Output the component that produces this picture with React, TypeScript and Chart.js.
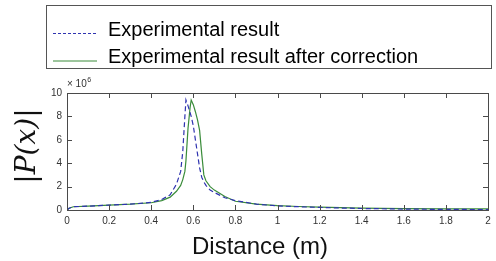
import React, { useEffect, useRef } from "react";
import { Chart, registerables } from "chart.js";

Chart.register(...registerables);

// Distance (m)
const distance = [0, 0.01, 0.03, 0.1, 0.2, 0.3, 0.4, 0.45, 0.49, 0.52, 0.54, 0.55, 0.56, 0.565, 0.575, 0.585, 0.59, 0.6, 0.61, 0.62, 0.63, 0.64, 0.65, 0.66, 0.68, 0.7, 0.75, 0.8, 0.9, 1.0, 1.1, 1.2, 1.3, 1.4, 1.6, 1.8, 2.0];
// |P(x)| in units of 1e6
const experimental = [0, 0.15, 0.28, 0.33, 0.42, 0.5, 0.65, 0.9, 1.3, 2.2, 3.3, 5.0, 8.0, 9.4, 8.9, 8.3, 8.0, 7.2, 6.0, 4.8, 3.6, 2.8, 2.4, 2.1, 1.7, 1.5, 1.05, 0.8, 0.5, 0.35, 0.28, 0.22, 0.17, 0.13, 0.08, 0.05, 0.04];
const corrected = [0, 0.15, 0.28, 0.33, 0.42, 0.5, 0.62, 0.8, 1.1, 1.6, 2.1, 2.6, 3.3, 4.2, 7.0, 8.8, 9.4, 9.0, 8.4, 7.7, 6.8, 4.8, 3.0, 2.5, 2.0, 1.7, 1.15, 0.75, 0.5, 0.38, 0.3, 0.24, 0.2, 0.16, 0.12, 0.1, 0.1];

const xTicks = [0, 0.2, 0.4, 0.6, 0.8, 1, 1.2, 1.4, 1.6, 1.8, 2];
const yTicks = [0, 2, 4, 6, 8, 10];
const seriesLabels = ["Experimental result", "Experimental result after correction"];
const xTitle = "Distance (m)";
const yTitle = "|P(x)|";

const SANS = '"Liberation Sans", Arial, sans-serif';

const decorPlugin = {
  id: "decor",
  afterDraw(chart: any) {
    const ctx = chart.ctx as CanvasRenderingContext2D;
    const { left, right, top, bottom } = chart.chartArea;
    const xs = chart.scales.x;
    const ys = chart.scales.y;
    ctx.save();
    // frame
    ctx.strokeStyle = "#4a4a4a";
    ctx.lineWidth = 1;
    ctx.strokeRect(Math.round(left) + 0.5, Math.round(top) + 0.5, Math.round(right - left), Math.round(bottom - top));
    // inward ticks
    const tl = 5;
    ctx.beginPath();
    xs.ticks.forEach((t: any) => {
      const px = Math.round(xs.getPixelForValue(t.value)) + 0.5;
      ctx.moveTo(px, bottom);
      ctx.lineTo(px, bottom - tl);
      ctx.moveTo(px, top);
      ctx.lineTo(px, top + tl);
    });
    ys.ticks.forEach((t: any) => {
      const py = Math.round(ys.getPixelForValue(t.value)) + 0.5;
      ctx.moveTo(left, py);
      ctx.lineTo(left + tl, py);
      ctx.moveTo(right, py);
      ctx.lineTo(right - tl, py);
    });
    ctx.stroke();

    // exponent label
    ctx.fillStyle = "#333";
    ctx.textBaseline = "alphabetic";
    ctx.textAlign = "left";
    ctx.font = `10px ${SANS}`;
    ctx.fillText("× 10", left, top - 6);
    const w = ctx.measureText("× 10").width;
    ctx.font = `7px ${SANS}`;
    ctx.fillText("6", left + w + 0.5, top - 11);

    // y title
    ctx.save();
    ctx.translate(28, 146);
    ctx.rotate(-Math.PI / 2);
    ctx.fillStyle = "#111";
    ctx.font = `italic 28px "DejaVu Serif", serif`;
    ctx.textAlign = "center";
    ctx.textBaseline = "middle";
    ctx.fillText(yTitle, 0, 0);
    ctx.restore();

    // x title
    ctx.fillStyle = "#111";
    ctx.font = `24px ${SANS}`;
    ctx.textAlign = "center";
    ctx.textBaseline = "alphabetic";
    ctx.fillText(xTitle, 260, 254);

    // legend box
    ctx.fillStyle = "#fff";
    ctx.fillRect(46.5, 5.5, 445, 63);
    ctx.strokeStyle = "#555";
    ctx.lineWidth = 1;
    ctx.strokeRect(46.5, 5.5, 445, 63);
    const rows = [
      { y: 33, ty: 36 },
      { y: 60.5, ty: 63 },
    ];
    chart.data.datasets.forEach((ds: any, i: number) => {
      const r = rows[i];
      ctx.beginPath();
      ctx.strokeStyle = ds.borderColor;
      ctx.lineWidth = 1;
      ctx.setLineDash(ds.borderDash ? [3, 2] : []);
      ctx.moveTo(53, r.y + 0.5);
      ctx.lineTo(97, r.y + 0.5);
      ctx.stroke();
      ctx.setLineDash([]);
      ctx.fillStyle = "#000";
      ctx.font = `20px ${SANS}`;
      ctx.textAlign = "left";
      ctx.fillText(ds.label, 108, r.ty);
    });
    ctx.restore();
  },
};

export default function App() {
  const ref = useRef<HTMLCanvasElement>(null);
  useEffect(() => {
    document.body.style.margin = "0";
    const canvas = ref.current!;
    const chart = new Chart(canvas, {
      type: "line",
      data: {
        datasets: [
          {
            label: seriesLabels[0],
            data: distance.map((x, i) => ({ x, y: experimental[i] })),
            borderColor: "#2f33b0",
            borderWidth: 1.2,
            borderDash: [5, 3],
            pointRadius: 0,
            tension: 0,
          },
          {
            label: seriesLabels[1],
            data: distance.map((x, i) => ({ x, y: corrected[i] })),
            borderColor: "#3a8c3a",
            borderWidth: 1.2,
            pointRadius: 0,
            tension: 0,
          },
        ],
      },
      options: {
        animation: false,
        responsive: false,
        maintainAspectRatio: false,
        layout: { padding: { top: 93, right: 8, left: 0, bottom: 0 } },
        plugins: { legend: { display: false }, tooltip: { enabled: false } },
        scales: {
          x: {
            type: "linear",
            min: 0,
            max: 2,
            afterBuildTicks: (s: any) => {
              s.ticks = xTicks.map((v) => ({ value: v }));
            },
            afterFit: (s: any) => {
              s.height = 51;
            },
            grid: { display: false, drawTicks: false },
            border: { display: false },
            ticks: {
              padding: 5,
              color: "#333",
              font: { family: SANS, size: 10 },
              maxRotation: 0,
              autoSkip: false,
              callback: (v: any) => String(Math.round(Number(v) * 10) / 10),
            },
          },
          y: {
            type: "linear",
            min: 0,
            max: 10,
            afterBuildTicks: (s: any) => {
              s.ticks = yTicks.map((v) => ({ value: v }));
            },
            afterFit: (s: any) => {
              s.width = 67;
            },
            grid: { display: false, drawTicks: false },
            border: { display: false },
            ticks: {
              padding: 5,
              color: "#333",
              font: { family: SANS, size: 10 },
              autoSkip: false,
              callback: (v: any) => String(v),
            },
          },
        },
      },
      plugins: [decorPlugin],
    });
    return () => chart.destroy();
  }, []);
  return (
    <div style={{ width: 496, height: 261 }}>
      <canvas ref={ref} width={496} height={261} style={{ display: "block" }} />
    </div>
  );
}
